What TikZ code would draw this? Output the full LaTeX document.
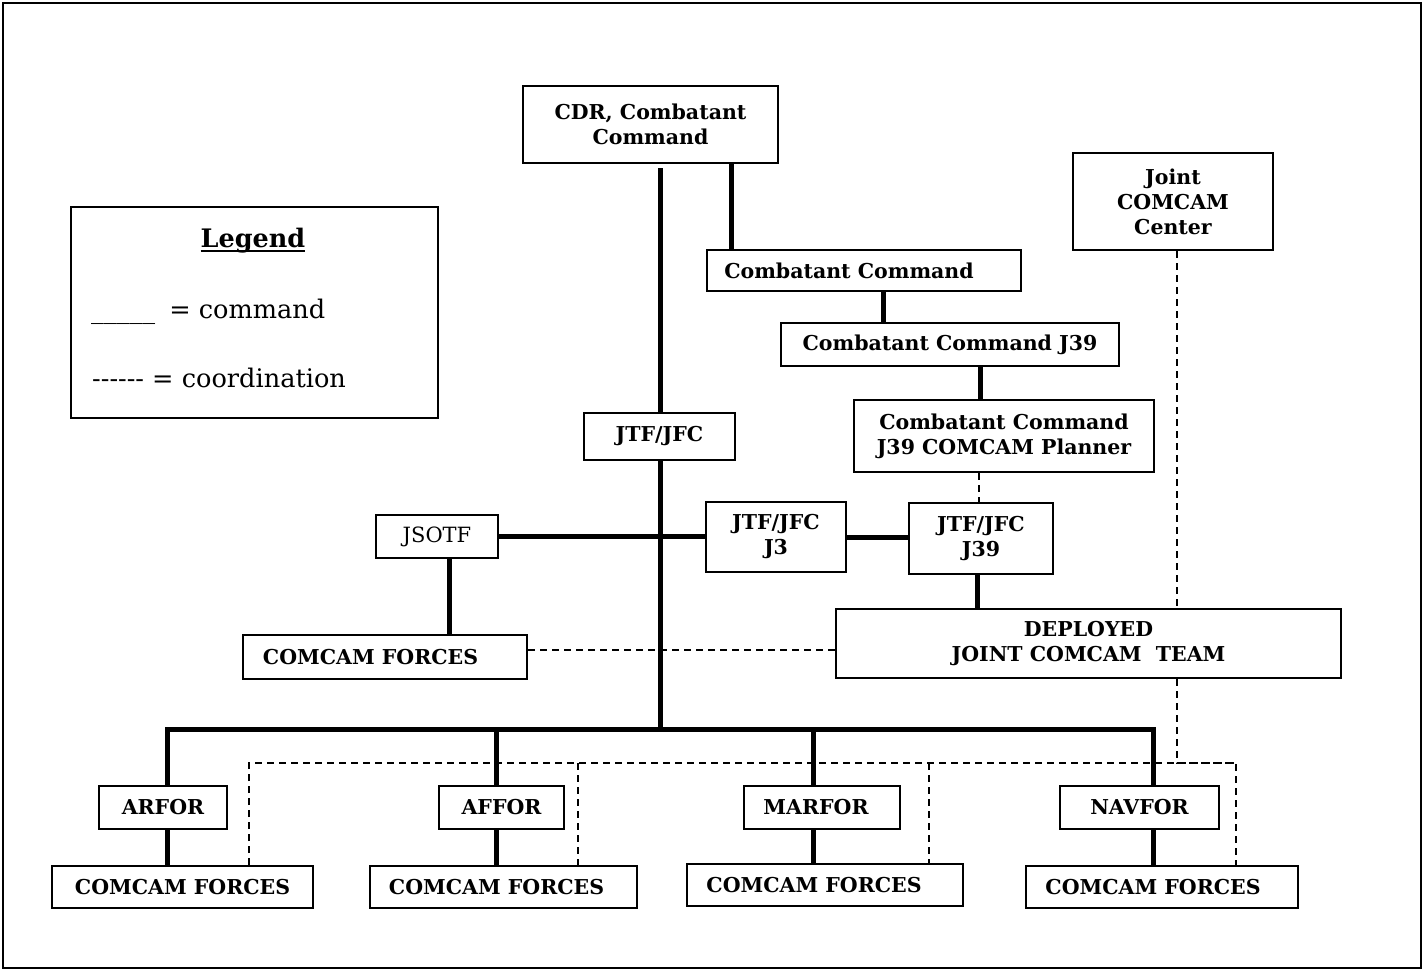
\documentclass[tikz,border=0pt]{standalone}
\usepackage{fontspec}
\setmainfont{DejaVu Serif}
\newcommand\bxfont{\fontsize{20.5}{25}\selectfont\bfseries}
\newcommand\lgfont{\fontsize{25.6}{30}\selectfont}
\begin{document}
\begin{tikzpicture}[x=1pt,y=-1pt,
  box/.style={draw, line width=2pt, fill=white, inner sep=0pt, font=\bxfont},
  cmd/.style={line width=5pt},
  coord/.style={line width=1.5pt, dash pattern=on 7pt off 5pt},
  legtext/.style={anchor=base west, inner sep=0pt, font=\lgfont}]
\useasboundingbox (0,0) rectangle (1424,971);
\draw[line width=2pt] (3,3) rectangle (1421,968);

% ---- boxes ----
\node[box, minimum width=255pt, minimum height=77pt, align=center] (cdr) at (650.5,124.5) {CDR, Combatant\\Command};
\node[box, minimum width=200pt, minimum height=97pt, align=center] (joint) at (1173,201.5) {Joint\\COMCAM\\Center};
\node[box, minimum width=314pt, minimum height=41pt] (cc) at (864,270.5) {\hspace*{-30pt}Combatant Command};
\node[box, minimum width=338pt, minimum height=43pt] (ccj) at (950,344.5) {Combatant Command J39};
\node[box, minimum width=300pt, minimum height=72pt, align=center] (plan) at (1004,436) {Combatant Command\\J39 COMCAM Planner};
\node[box, minimum width=151pt, minimum height=47pt] (jtf) at (659.5,436.5) {JTF/JFC};
\node[box, minimum width=122pt, minimum height=43pt, font=\fontsize{21}{25}\selectfont] (jsotf) at (437,536.5) {JSOTF};
\node[box, minimum width=140pt, minimum height=70pt, align=center] (jthree) at (776,537) {JTF/JFC\\J3};
\node[box, minimum width=144pt, minimum height=71pt, align=center] (jtn) at (981,538.5) {JTF/JFC\\J39};
\node[box, minimum width=505pt, minimum height=69pt, align=center] (dep) at (1088.5,643.5) {DEPLOYED\\JOINT COMCAM\ \ TEAM};
\node[box, minimum width=284pt, minimum height=44pt] (scf) at (385,657) {\hspace*{-29pt}COMCAM FORCES};

\node[box, minimum width=128pt, minimum height=43pt] (arfor) at (163,807.5) {ARFOR};
\node[box, minimum width=261pt, minimum height=42pt] (arcf) at (182.5,887) {COMCAM FORCES};
\node[box, minimum width=125pt, minimum height=43pt] (affor) at (501.5,807.5) {AFFOR};
\node[box, minimum width=267pt, minimum height=42pt] (afcf) at (503.5,887) {\hspace*{-14pt}COMCAM FORCES};
\node[box, minimum width=156pt, minimum height=43pt] (marfor) at (822,807.5) {\hspace*{-12pt}MARFOR};
\node[box, minimum width=276pt, minimum height=42pt] (macf) at (825,885) {\hspace*{-22pt}COMCAM FORCES};
\node[box, minimum width=159pt, minimum height=43pt] (navfor) at (1139.5,807.5) {NAVFOR};
\node[box, minimum width=272pt, minimum height=42pt] (nacf) at (1162,887) {\hspace*{-18pt}COMCAM FORCES};

% ---- coordination lines ----
\draw[coord] (scf.east |- 0,650) -- (dep.west |- 0,650);
\draw[coord] (979,0 |- plan.south) -- (979,0 |- jtn.north);
\draw[coord] (1177,0 |- joint.south) -- (1177,0 |- dep.north);
\draw[coord] (1177,0 |- dep.south) -- (1177,763) -- (1236,763) -- (1236,0 |- nacf.north);
\draw[coord] (249,0 |- arcf.north) -- (249,763) -- (1236,763);
\draw[coord] (578,763) -- (578,0 |- afcf.north);
\draw[coord] (929,763) -- (929,0 |- macf.north);

% ---- command lines ----
\draw[cmd, shorten <=4pt] (660,0 |- cdr.south) -- (660,0 |- jtf.north);
\draw[cmd] (731,0 |- cdr.south) -- (731,0 |- cc.north);
\draw[cmd] (883,0 |- cc.south) -- (883,0 |- ccj.north);
\draw[cmd] (980,0 |- ccj.south) -- (980,0 |- plan.north);
\draw[cmd] (660,0 |- jtf.south) -- (660,729);
\draw[cmd] (jsotf.east) -- (jsotf.east -| jthree.west);
\draw[cmd] (jthree.east) -- (jthree.east -| jtn.west);
\draw[cmd] (449,0 |- jsotf.south) -- (449,0 |- scf.north);
\draw[cmd] (977,0 |- jtn.south) -- (977,0 |- dep.north);
\draw[cmd] (167,0 |- arfor.north) |- (1153,729) -- (1153,0 |- navfor.north);
\draw[cmd] (496,729) -- (496,0 |- affor.north);
\draw[cmd] (813,729) -- (813,0 |- marfor.north);
\draw[cmd] (167,0 |- arfor.south) -- (167,0 |- arcf.north);
\draw[cmd] (496,0 |- affor.south) -- (496,0 |- afcf.north);
\draw[cmd] (813,0 |- marfor.south) -- (813,0 |- macf.north);
\draw[cmd] (1153,0 |- navfor.south) -- (1153,0 |- nacf.north);

% ---- legend ----
\node[draw, line width=2pt, minimum width=367pt, minimum height=211pt, inner sep=0pt] (legend) at (254.5,312.5) {};
\node[anchor=base, inner sep=0pt, font=\fontsize{25.5}{30}\selectfont\bfseries] (legtitle) at (253,247) {Legend};
\draw[line width=1.5pt] ([yshift=-4pt]legtitle.base west) -- ([yshift=-4pt]legtitle.base east);
\node[legtext] (legcmd) at (91,318) {\_\_\_\_\_\hspace{0.55em}= command};
\node[legtext] (legcoord) at (92,387) {\mbox{-}\mbox{-}\mbox{-}\mbox{-}\mbox{-}\mbox{-} = coordination};
\end{tikzpicture}
\end{document}
